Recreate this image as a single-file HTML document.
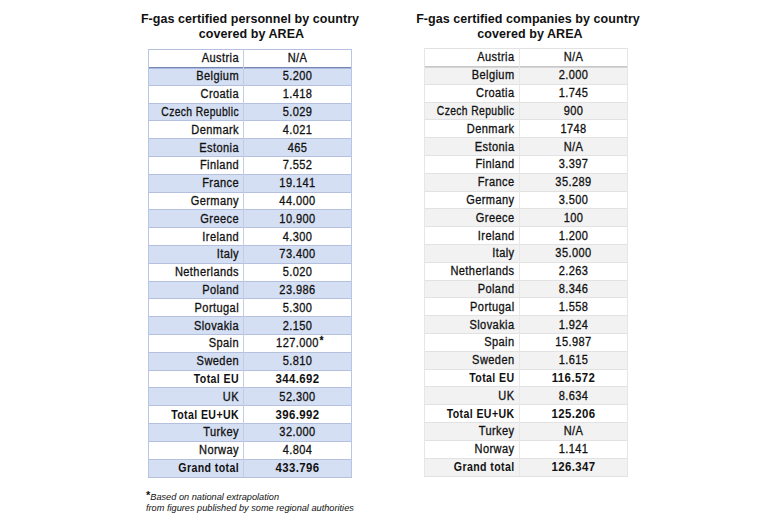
<!DOCTYPE html>
<html><head><meta charset="utf-8"><style>
html,body{margin:0;padding:0;background:#fff;width:770px;height:523px;overflow:hidden;position:relative}
body{font-family:"Liberation Sans",sans-serif;color:#111}
.a{position:absolute}
.title{position:absolute;font-weight:bold;font-size:12.5px;line-height:15.3px;text-align:center;white-space:nowrap;color:#111;letter-spacing:0.06px}
.c,.n{position:absolute;height:17.8px;line-height:17.8px;font-size:12px;letter-spacing:0.45px;white-space:nowrap;-webkit-text-stroke:0.3px #111}
.c{text-align:right;transform:scaleX(0.92);transform-origin:100% 50%}
.c.b{transform:scaleX(0.88)}
.n{text-align:center;transform:scaleX(0.92);transform-origin:50% 50%}
.n.b{transform:scaleX(0.95)}
.n span{position:relative}
.b{font-weight:bold;-webkit-text-stroke:0}
.star{position:absolute;left:100%;top:0px;font-size:10px;font-style:normal;font-weight:bold;margin-left:1px;line-height:10px}
.foot{position:absolute;font-style:italic;font-size:9.2px;line-height:11px;white-space:nowrap;color:#111}
</style></head><body>
<div class="title" style="left:100px;width:300px;top:12px">F-gas certified personnel by country<br><span style="padding-left:3px">covered by AREA</span></div>
<div class="title" style="left:378px;width:300px;top:12px">F-gas certified companies by country<br><span style="padding-left:4px">covered by AREA</span></div>
<div class="a" style="left:148px;top:67.40px;width:204px;height:17.80px;background:#d5dff3"></div>
<div class="a" style="left:148px;top:103.00px;width:204px;height:17.80px;background:#d5dff3"></div>
<div class="a" style="left:148px;top:138.60px;width:204px;height:17.80px;background:#d5dff3"></div>
<div class="a" style="left:148px;top:174.20px;width:204px;height:17.80px;background:#d5dff3"></div>
<div class="a" style="left:148px;top:209.80px;width:204px;height:17.80px;background:#d5dff3"></div>
<div class="a" style="left:148px;top:245.40px;width:204px;height:17.80px;background:#d5dff3"></div>
<div class="a" style="left:148px;top:281.00px;width:204px;height:17.80px;background:#d5dff3"></div>
<div class="a" style="left:148px;top:316.60px;width:204px;height:17.80px;background:#d5dff3"></div>
<div class="a" style="left:148px;top:352.20px;width:204px;height:17.80px;background:#d5dff3"></div>
<div class="a" style="left:148px;top:387.80px;width:204px;height:17.80px;background:#d5dff3"></div>
<div class="a" style="left:148px;top:423.40px;width:204px;height:17.80px;background:#d5dff3"></div>
<div class="a" style="left:148px;top:459.00px;width:204px;height:17.80px;background:#d5dff3"></div>
<div class="a" style="left:148px;top:49.10px;width:204px;height:1px;background:#b4c0de"></div>
<div class="a" style="left:148px;top:67.40px;width:204px;height:1px;background:#7586b0"></div>
<div class="a" style="left:148px;top:68.40px;width:204px;height:1px;background:#a9b9e0"></div>
<div class="a" style="left:148px;top:84.70px;width:204px;height:1px;background:#b4c0de"></div>
<div class="a" style="left:148px;top:102.50px;width:204px;height:1px;background:#b4c0de"></div>
<div class="a" style="left:148px;top:120.30px;width:204px;height:1px;background:#b4c0de"></div>
<div class="a" style="left:148px;top:138.10px;width:204px;height:1px;background:#b4c0de"></div>
<div class="a" style="left:148px;top:155.90px;width:204px;height:1px;background:#b4c0de"></div>
<div class="a" style="left:148px;top:173.70px;width:204px;height:1px;background:#b4c0de"></div>
<div class="a" style="left:148px;top:191.50px;width:204px;height:1px;background:#b4c0de"></div>
<div class="a" style="left:148px;top:209.30px;width:204px;height:1px;background:#b4c0de"></div>
<div class="a" style="left:148px;top:227.10px;width:204px;height:1px;background:#b4c0de"></div>
<div class="a" style="left:148px;top:244.90px;width:204px;height:1px;background:#b4c0de"></div>
<div class="a" style="left:148px;top:262.70px;width:204px;height:1px;background:#b4c0de"></div>
<div class="a" style="left:148px;top:280.50px;width:204px;height:1px;background:#b4c0de"></div>
<div class="a" style="left:148px;top:298.30px;width:204px;height:1px;background:#b4c0de"></div>
<div class="a" style="left:148px;top:316.10px;width:204px;height:1px;background:#b4c0de"></div>
<div class="a" style="left:148px;top:333.90px;width:204px;height:1px;background:#b4c0de"></div>
<div class="a" style="left:148px;top:351.70px;width:204px;height:1px;background:#b4c0de"></div>
<div class="a" style="left:148px;top:369.50px;width:204px;height:1px;background:#b4c0de"></div>
<div class="a" style="left:148px;top:387.30px;width:204px;height:1px;background:#b4c0de"></div>
<div class="a" style="left:148px;top:405.10px;width:204px;height:1px;background:#b4c0de"></div>
<div class="a" style="left:148px;top:422.90px;width:204px;height:1px;background:#b4c0de"></div>
<div class="a" style="left:148px;top:440.70px;width:204px;height:1px;background:#b4c0de"></div>
<div class="a" style="left:148px;top:458.50px;width:204px;height:1px;background:#b4c0de"></div>
<div class="a" style="left:148px;top:476.80px;width:204px;height:1px;background:#b4c0de"></div>
<div class="a" style="left:148px;top:49.10px;width:1px;height:428.20px;background:#b8c6e6"></div>
<div class="a" style="left:351px;top:49.10px;width:1px;height:428.20px;background:#b8c6e6"></div>
<div class="a" style="left:243px;top:49.10px;width:1px;height:428.20px;background:#c3cce2"></div>
<div class="c" style="left:148px;top:49.60px;width:91.0px">Austria</div>
<div class="n" style="left:244px;top:49.60px;width:107px"><span>N/A</span></div>
<div class="c" style="left:148px;top:68.40px;width:91.0px">Belgium</div>
<div class="n" style="left:244px;top:68.40px;width:107px"><span>5.200</span></div>
<div class="c" style="left:148px;top:86.20px;width:91.0px">Croatia</div>
<div class="n" style="left:244px;top:86.20px;width:107px"><span>1.418</span></div>
<div class="c" style="left:148px;top:104.00px;width:91.0px;transform:scaleX(0.86)">Czech Republic</div>
<div class="n" style="left:244px;top:104.00px;width:107px"><span>5.029</span></div>
<div class="c" style="left:148px;top:121.80px;width:91.0px">Denmark</div>
<div class="n" style="left:244px;top:121.80px;width:107px"><span>4.021</span></div>
<div class="c" style="left:148px;top:139.60px;width:91.0px">Estonia</div>
<div class="n" style="left:244px;top:139.60px;width:107px"><span>465</span></div>
<div class="c" style="left:148px;top:157.40px;width:91.0px">Finland</div>
<div class="n" style="left:244px;top:157.40px;width:107px"><span>7.552</span></div>
<div class="c" style="left:148px;top:175.20px;width:91.0px">France</div>
<div class="n" style="left:244px;top:175.20px;width:107px"><span>19.141</span></div>
<div class="c" style="left:148px;top:193.00px;width:91.0px">Germany</div>
<div class="n" style="left:244px;top:193.00px;width:107px"><span>44.000</span></div>
<div class="c" style="left:148px;top:210.80px;width:91.0px">Greece</div>
<div class="n" style="left:244px;top:210.80px;width:107px"><span>10.900</span></div>
<div class="c" style="left:148px;top:228.60px;width:91.0px">Ireland</div>
<div class="n" style="left:244px;top:228.60px;width:107px"><span>4.300</span></div>
<div class="c" style="left:148px;top:246.40px;width:91.0px">Italy</div>
<div class="n" style="left:244px;top:246.40px;width:107px"><span>73.400</span></div>
<div class="c" style="left:148px;top:264.20px;width:91.0px">Netherlands</div>
<div class="n" style="left:244px;top:264.20px;width:107px"><span>5.020</span></div>
<div class="c" style="left:148px;top:282.00px;width:91.0px">Poland</div>
<div class="n" style="left:244px;top:282.00px;width:107px"><span>23.986</span></div>
<div class="c" style="left:148px;top:299.80px;width:91.0px">Portugal</div>
<div class="n" style="left:244px;top:299.80px;width:107px"><span>5.300</span></div>
<div class="c" style="left:148px;top:317.60px;width:91.0px">Slovakia</div>
<div class="n" style="left:244px;top:317.60px;width:107px"><span>2.150</span></div>
<div class="c" style="left:148px;top:335.40px;width:91.0px">Spain</div>
<div class="n" style="left:244px;top:335.40px;width:107px"><span>127.000<i class="star">*</i></span></div>
<div class="c" style="left:148px;top:353.20px;width:91.0px">Sweden</div>
<div class="n" style="left:244px;top:353.20px;width:107px"><span>5.810</span></div>
<div class="c b" style="left:148px;top:371.00px;width:91.0px">Total EU</div>
<div class="n b" style="left:244px;top:371.00px;width:107px"><span>344.692</span></div>
<div class="c" style="left:148px;top:388.80px;width:91.0px">UK</div>
<div class="n" style="left:244px;top:388.80px;width:107px"><span>52.300</span></div>
<div class="c b" style="left:148px;top:406.60px;width:91.0px">Total EU+UK</div>
<div class="n b" style="left:244px;top:406.60px;width:107px"><span>396.992</span></div>
<div class="c" style="left:148px;top:424.40px;width:91.0px">Turkey</div>
<div class="n" style="left:244px;top:424.40px;width:107px"><span>32.000</span></div>
<div class="c" style="left:148px;top:442.20px;width:91.0px">Norway</div>
<div class="n" style="left:244px;top:442.20px;width:107px"><span>4.804</span></div>
<div class="c b" style="left:148px;top:460.00px;width:91.0px">Grand total</div>
<div class="n b" style="left:244px;top:460.00px;width:107px"><span>433.796</span></div>
<div class="a" style="left:424px;top:66.40px;width:204px;height:17.80px;background:#f2f2f2"></div>
<div class="a" style="left:424px;top:102.00px;width:204px;height:17.80px;background:#f2f2f2"></div>
<div class="a" style="left:424px;top:137.60px;width:204px;height:17.80px;background:#f2f2f2"></div>
<div class="a" style="left:424px;top:173.20px;width:204px;height:17.80px;background:#f2f2f2"></div>
<div class="a" style="left:424px;top:208.80px;width:204px;height:17.80px;background:#f2f2f2"></div>
<div class="a" style="left:424px;top:244.40px;width:204px;height:17.80px;background:#f2f2f2"></div>
<div class="a" style="left:424px;top:280.00px;width:204px;height:17.80px;background:#f2f2f2"></div>
<div class="a" style="left:424px;top:315.60px;width:204px;height:17.80px;background:#f2f2f2"></div>
<div class="a" style="left:424px;top:351.20px;width:204px;height:17.80px;background:#f2f2f2"></div>
<div class="a" style="left:424px;top:386.80px;width:204px;height:17.80px;background:#f2f2f2"></div>
<div class="a" style="left:424px;top:422.40px;width:204px;height:17.80px;background:#f2f2f2"></div>
<div class="a" style="left:424px;top:458.00px;width:204px;height:17.80px;background:#f2f2f2"></div>
<div class="a" style="left:424px;top:48.10px;width:204px;height:1px;background:#e2e2e2"></div>
<div class="a" style="left:424px;top:66.40px;width:204px;height:1px;background:#c8c8c8"></div>
<div class="a" style="left:424px;top:67.40px;width:204px;height:1px;background:#d4d4d4"></div>
<div class="a" style="left:424px;top:83.70px;width:204px;height:1px;background:#e2e2e2"></div>
<div class="a" style="left:424px;top:101.50px;width:204px;height:1px;background:#e2e2e2"></div>
<div class="a" style="left:424px;top:119.30px;width:204px;height:1px;background:#e2e2e2"></div>
<div class="a" style="left:424px;top:137.10px;width:204px;height:1px;background:#e2e2e2"></div>
<div class="a" style="left:424px;top:154.90px;width:204px;height:1px;background:#e2e2e2"></div>
<div class="a" style="left:424px;top:172.70px;width:204px;height:1px;background:#e2e2e2"></div>
<div class="a" style="left:424px;top:190.50px;width:204px;height:1px;background:#e2e2e2"></div>
<div class="a" style="left:424px;top:208.30px;width:204px;height:1px;background:#e2e2e2"></div>
<div class="a" style="left:424px;top:226.10px;width:204px;height:1px;background:#e2e2e2"></div>
<div class="a" style="left:424px;top:243.90px;width:204px;height:1px;background:#e2e2e2"></div>
<div class="a" style="left:424px;top:261.70px;width:204px;height:1px;background:#e2e2e2"></div>
<div class="a" style="left:424px;top:279.50px;width:204px;height:1px;background:#e2e2e2"></div>
<div class="a" style="left:424px;top:297.30px;width:204px;height:1px;background:#e2e2e2"></div>
<div class="a" style="left:424px;top:315.10px;width:204px;height:1px;background:#e2e2e2"></div>
<div class="a" style="left:424px;top:332.90px;width:204px;height:1px;background:#e2e2e2"></div>
<div class="a" style="left:424px;top:350.70px;width:204px;height:1px;background:#e2e2e2"></div>
<div class="a" style="left:424px;top:368.50px;width:204px;height:1px;background:#e2e2e2"></div>
<div class="a" style="left:424px;top:386.30px;width:204px;height:1px;background:#e2e2e2"></div>
<div class="a" style="left:424px;top:404.10px;width:204px;height:1px;background:#e2e2e2"></div>
<div class="a" style="left:424px;top:421.90px;width:204px;height:1px;background:#e2e2e2"></div>
<div class="a" style="left:424px;top:439.70px;width:204px;height:1px;background:#e2e2e2"></div>
<div class="a" style="left:424px;top:457.50px;width:204px;height:1px;background:#e2e2e2"></div>
<div class="a" style="left:424px;top:475.80px;width:204px;height:1px;background:#e2e2e2"></div>
<div class="a" style="left:424px;top:48.10px;width:1px;height:428.20px;background:#e6e6e6"></div>
<div class="a" style="left:627px;top:48.10px;width:1px;height:428.20px;background:#e6e6e6"></div>
<div class="a" style="left:519px;top:48.10px;width:1px;height:428.20px;background:#e8e8e8"></div>
<div class="c" style="left:424px;top:48.60px;width:90.5px">Austria</div>
<div class="n" style="left:520px;top:48.60px;width:107px"><span>N/A</span></div>
<div class="c" style="left:424px;top:67.40px;width:90.5px">Belgium</div>
<div class="n" style="left:520px;top:67.40px;width:107px"><span>2.000</span></div>
<div class="c" style="left:424px;top:85.20px;width:90.5px">Croatia</div>
<div class="n" style="left:520px;top:85.20px;width:107px"><span>1.745</span></div>
<div class="c" style="left:424px;top:103.00px;width:90.5px;transform:scaleX(0.86)">Czech Republic</div>
<div class="n" style="left:520px;top:103.00px;width:107px"><span>900</span></div>
<div class="c" style="left:424px;top:120.80px;width:90.5px">Denmark</div>
<div class="n" style="left:520px;top:120.80px;width:107px"><span>1748</span></div>
<div class="c" style="left:424px;top:138.60px;width:90.5px">Estonia</div>
<div class="n" style="left:520px;top:138.60px;width:107px"><span>N/A</span></div>
<div class="c" style="left:424px;top:156.40px;width:90.5px">Finland</div>
<div class="n" style="left:520px;top:156.40px;width:107px"><span>3.397</span></div>
<div class="c" style="left:424px;top:174.20px;width:90.5px">France</div>
<div class="n" style="left:520px;top:174.20px;width:107px"><span>35.289</span></div>
<div class="c" style="left:424px;top:192.00px;width:90.5px">Germany</div>
<div class="n" style="left:520px;top:192.00px;width:107px"><span>3.500</span></div>
<div class="c" style="left:424px;top:209.80px;width:90.5px">Greece</div>
<div class="n" style="left:520px;top:209.80px;width:107px"><span>100</span></div>
<div class="c" style="left:424px;top:227.60px;width:90.5px">Ireland</div>
<div class="n" style="left:520px;top:227.60px;width:107px"><span>1.200</span></div>
<div class="c" style="left:424px;top:245.40px;width:90.5px">Italy</div>
<div class="n" style="left:520px;top:245.40px;width:107px"><span>35.000</span></div>
<div class="c" style="left:424px;top:263.20px;width:90.5px">Netherlands</div>
<div class="n" style="left:520px;top:263.20px;width:107px"><span>2.263</span></div>
<div class="c" style="left:424px;top:281.00px;width:90.5px">Poland</div>
<div class="n" style="left:520px;top:281.00px;width:107px"><span>8.346</span></div>
<div class="c" style="left:424px;top:298.80px;width:90.5px">Portugal</div>
<div class="n" style="left:520px;top:298.80px;width:107px"><span>1.558</span></div>
<div class="c" style="left:424px;top:316.60px;width:90.5px">Slovakia</div>
<div class="n" style="left:520px;top:316.60px;width:107px"><span>1.924</span></div>
<div class="c" style="left:424px;top:334.40px;width:90.5px">Spain</div>
<div class="n" style="left:520px;top:334.40px;width:107px"><span>15.987</span></div>
<div class="c" style="left:424px;top:352.20px;width:90.5px">Sweden</div>
<div class="n" style="left:520px;top:352.20px;width:107px"><span>1.615</span></div>
<div class="c b" style="left:424px;top:370.00px;width:90.5px">Total EU</div>
<div class="n b" style="left:520px;top:370.00px;width:107px"><span>116.572</span></div>
<div class="c" style="left:424px;top:387.80px;width:90.5px">UK</div>
<div class="n" style="left:520px;top:387.80px;width:107px"><span>8.634</span></div>
<div class="c b" style="left:424px;top:405.60px;width:90.5px">Total EU+UK</div>
<div class="n b" style="left:520px;top:405.60px;width:107px"><span>125.206</span></div>
<div class="c" style="left:424px;top:423.40px;width:90.5px">Turkey</div>
<div class="n" style="left:520px;top:423.40px;width:107px"><span>N/A</span></div>
<div class="c" style="left:424px;top:441.20px;width:90.5px">Norway</div>
<div class="n" style="left:520px;top:441.20px;width:107px"><span>1.141</span></div>
<div class="c b" style="left:424px;top:459.00px;width:90.5px">Grand total</div>
<div class="n b" style="left:520px;top:459.00px;width:107px"><span>126.347</span></div>
<div class="foot" style="left:146px;top:491px"><span style="font-style:normal;font-weight:bold;font-size:11px;position:relative;top:-1px">*</span>Based on national extrapolation<br>from figures published by some regional authorities</div>
</body></html>
